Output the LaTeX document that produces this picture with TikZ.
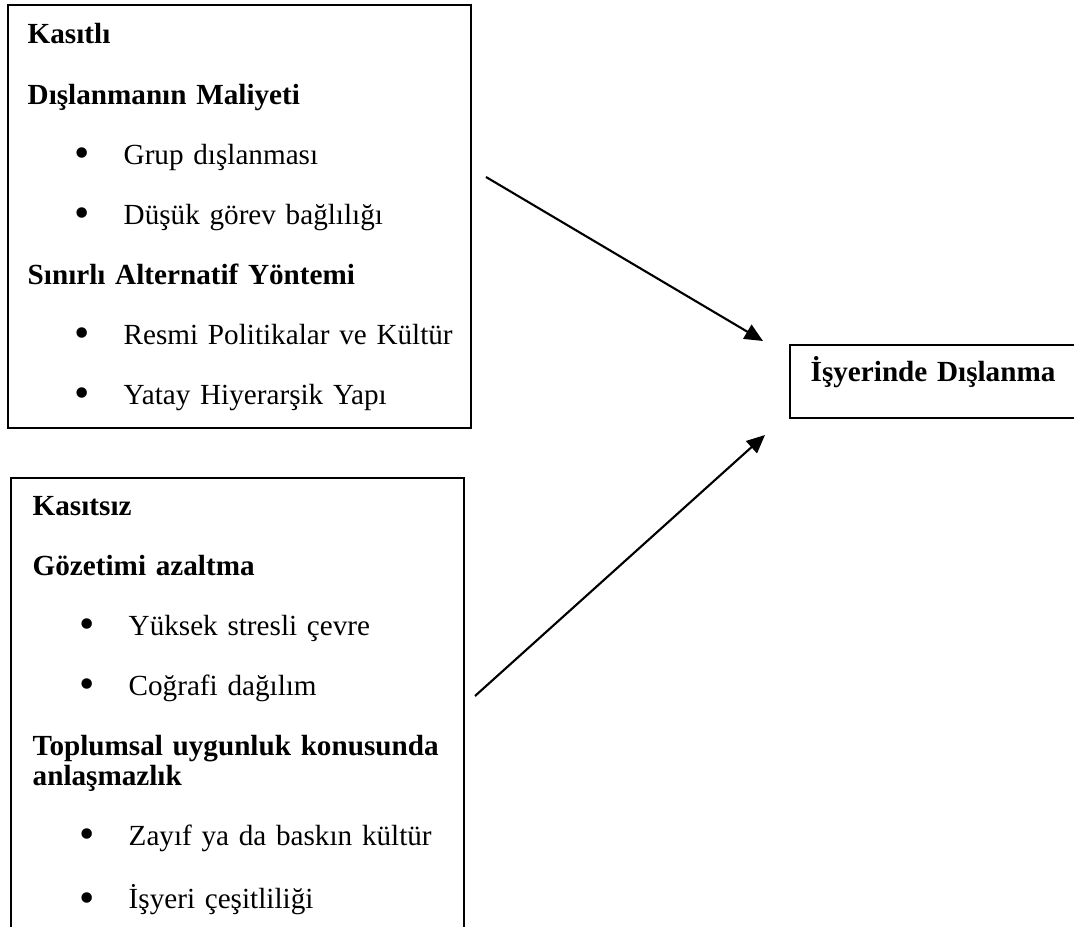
\documentclass[tikz,border=0pt]{standalone}
\usepackage{fontspec}
\usepackage{graphicx}
\setmainfont{Liberation Serif}
\usetikzlibrary{arrows.meta}

\newcommand{\bulletline}[1]{\hspace*{0.47cm}\makebox[0.49cm][l]{\raisebox{-0.035cm}{\scalebox{1.5}{\textbullet}}}#1}

\tikzset{
   frame/.style={draw, line width=0.6pt, anchor=north west, inner sep=0pt},
   listtext/.style={anchor=base west, inner sep=0pt, text width=4.3cm, align=left,
      font=\fontsize{8.3}{8.54}\selectfont},
   flow/.style={-{Triangle[length=5.2pt, width=4.6pt]}, line width=0.6pt}
}

\begin{document}
\begin{tikzpicture}[x=1cm, y=-1cm]
   \clip (0,0) rectangle (10.74,9.27);
   % frames
   \node[frame, minimum width=4.63cm, minimum height=4.23cm] (intentbox) at (0.07,0.04) {};
   \node[frame, minimum width=4.53cm, minimum height=4.90cm] (unintentbox) at (0.10,4.77) {};
   \node[frame, minimum width=3.20cm, minimum height=0.73cm] (ostracismbox) at (7.89,3.44) {};
   % texts
   \node[listtext] (intenttext) at (0.27,0.44) {%
      \textbf{Kasıtlı}\\[0.3cm]
      \textbf{Dışlanmanın Maliyeti}\\[0.3cm]
      \bulletline{Grup dışlanması}\\[0.3cm]
      \bulletline{Düşük görev bağlılığı}\\[0.3cm]
      \textbf{Sınırlı Alternatif Yöntemi}\\[0.3cm]
      \bulletline{Resmi Politikalar ve Kültür}\\[0.3cm]
      \bulletline{Yatay Hiyerarşik Yapı}};
   \node[listtext] (unintenttext) at (0.32,5.15) {%
      \textbf{Kasıtsız}\\[0.3cm]
      \textbf{Gözetimi azaltma}\\[0.3cm]
      \bulletline{Yüksek stresli çevre}\\[0.3cm]
      \bulletline{Coğrafi dağılım}\\[0.3cm]
      \textbf{Toplumsal uygunluk konusunda}\\
      \textbf{anlaşmazlık}\\[0.3cm]
      \bulletline{Zayıf ya da baskın kültür}\\[0.3cm]
      \bulletline{İşyeri çeşitliliği}};
   \node[listtext, text width=2.9cm] (ostracismtext) at (8.10,3.82) {\textbf{İşyerinde Dışlanma}};
   % arrows
   \coordinate (intentout) at (4.86,1.77);
   \coordinate (intentin) at (7.63,3.41);
   \coordinate (unintentout) at (4.75,6.96);
   \coordinate (unintentin) at (7.65,4.35);
   \draw[flow] (intentout) -- (intentin);
   \draw[flow] (unintentout) -- (unintentin);
\end{tikzpicture}
\end{document}
